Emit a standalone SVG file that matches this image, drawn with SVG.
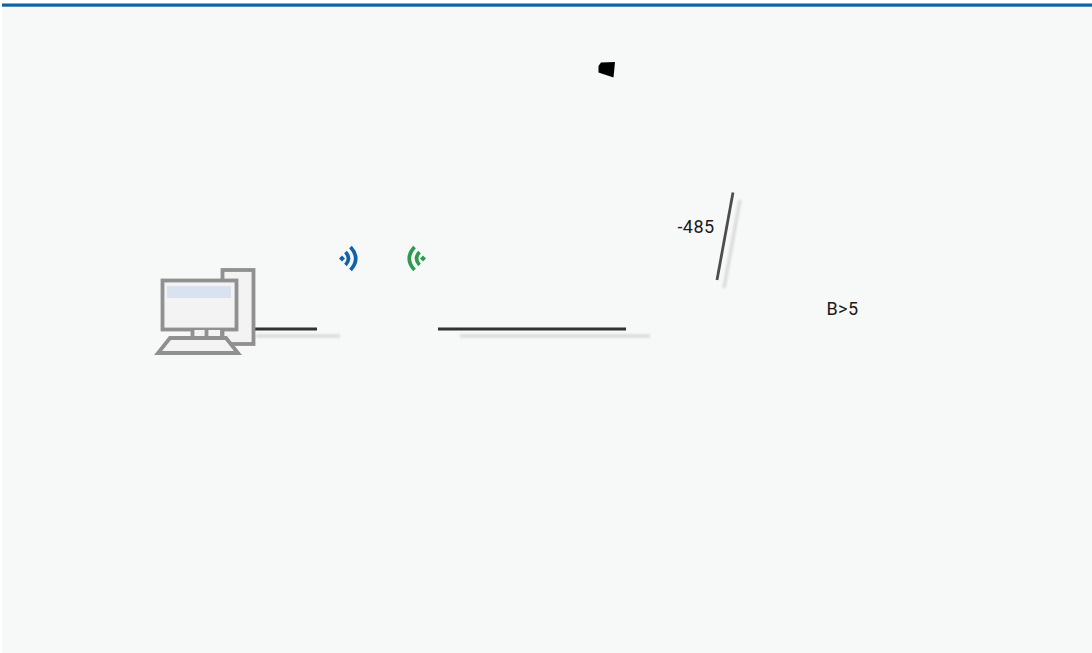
<svg xmlns="http://www.w3.org/2000/svg" width="1092" height="653" viewBox="0 0 1092 653">
<style>
.t{font-family:"Roboto","Liberation Sans",sans-serif;font-size:18px;letter-spacing:.4px;fill:#1a1a1a}
.c{fill:#f3f3f3;stroke:#909090;stroke-width:3.8}
</style>
<defs><filter id="b" filterUnits="userSpaceOnUse" x="0" y="0" width="1092" height="653"><feGaussianBlur stdDeviation="1.2"/></filter></defs>
<rect width="1092" height="653" fill="#fff"/>
<rect x="2" y="3" width="1090" height="650" fill="#f7f9f8"/>
<rect x="2" y="3.500" width="1090" height="3.200" fill="#0f62a8"/>
<g id="connectors">
<g filter="url(#b)" fill="none" stroke="#dcdcdc" stroke-width="3.600">
<path d="M256 336H340M460 336H650"/>
<path d="M740 200L724 288"/>
</g>
<path d="M254 329H317M438 329H626" stroke="#333" stroke-width="2.800" fill="none"/>
<path d="M733 192.500L717 280" stroke="#4d4d4d" stroke-width="2.800" fill="none"/>
</g>
<g id="computer">
<rect class="c" x="222.500" y="270" width="31" height="74"/>
<rect class="c" x="162.500" y="280.500" width="74" height="49"/>
<rect x="167" y="286" width="64" height="12" fill="#d9e2f0"/>
<path class="c" d="M192.500 330V338H222V330M206.500 330V338"/>
<path class="c" d="M170 338H226L238 353H158Z"/>
</g>
<g id="wifi-left" fill="none" stroke="#0f62a8" stroke-width="3.600">
<path d="M339 258.500L342 255.500L345 258.500L342 261.500Z" fill="#0f62a8" stroke="none"/>
<path d="M345.500 252Q351.500 258.500 345.500 265"/>
<path d="M350.500 247Q361 258.500 350.500 270"/>
</g>
<g id="wifi-right" fill="none" stroke="#2f9a4f" stroke-width="3.600">
<path d="M426 258.500L423 255.500L420 258.500L423 261.500Z" fill="#2f9a4f" stroke="none"/>
<path d="M419.500 252Q413.500 258.500 419.500 265"/>
<path d="M414.500 247Q404 258.500 414.500 270"/>
</g>
<g id="block"><path d="M601 62.500L615 62L613.500 77.500L598.500 72.500V66Z" fill="#000"/></g>
<g id="label-485"><text class="t" x="677.500" y="233">-485</text></g>
<g id="label-b5"><text class="t" x="826.500" y="315">B&gt;5</text></g>
</svg>
